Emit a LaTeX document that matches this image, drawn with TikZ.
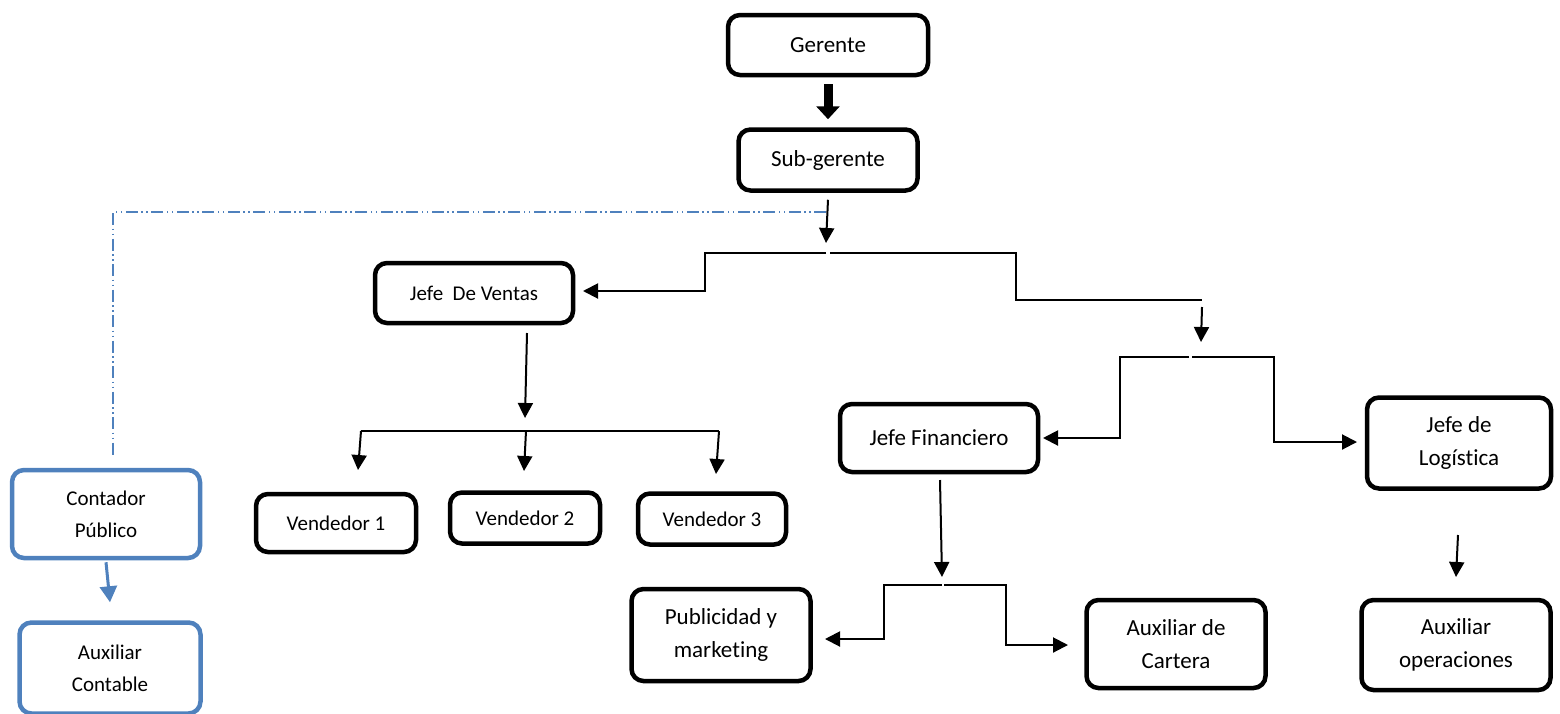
\documentclass[tikz,border=0pt]{standalone}
\usepackage{fontspec}
\setmainfont{Carlito}[Ligatures=NoCommon]
\usetikzlibrary{arrows.meta}
\definecolor{azul}{HTML}{4F81BD}

\begin{document}
\begin{tikzpicture}[x=1pt,y=-1pt,
    caja/.style={draw,line width=4.5pt,rounded corners=12pt,align=center,inner sep=0pt,
      font=\fontsize{23}{33}\selectfont},
    cajachica/.style={caja,font=\fontsize{21}{32}\selectfont},
    cajaazul/.style={cajachica,draw=azul},
    linea/.style={line width=2pt},
    flecha/.style={linea,-{Triangle[length=15pt,width=15pt]}},
    gruesa/.style={line width=9pt,-{Triangle[length=13pt,width=23pt]}},
    flechaazul/.style={azul,line width=3pt,-{Triangle[length=16pt,width=17pt]}},
    punteado/.style={azul,line width=1.5pt,dash pattern=on 12pt off 3.5pt on 1.5pt off 3.5pt on 1.5pt off 3.5pt}]
  \useasboundingbox (0,0) rectangle (1560,713);

  \node[caja,minimum width=200,minimum height=60] (ger) at (828,45) {Gerente};
  \node[caja,minimum width=179,minimum height=61] (sub) at (828,160) {Sub-gerente};
  \node[cajachica,minimum width=198,minimum height=60] (jv) at (474,293) {Jefe\ \ De Ventas};
  \node[cajachica,minimum width=160,minimum height=58] (v1) at (336,523) {Vendedor 1};
  \node[cajachica,minimum width=150,minimum height=51] (v2) at (525,518) {Vendedor 2};
  \node[cajachica,minimum width=148,minimum height=51] (v3) at (712,519) {Vendedor 3};
  \node[caja,minimum width=198,minimum height=68] (jf) at (939,438) {Jefe Financiero};
  \node[caja,minimum width=184,minimum height=91] (jl) at (1459,443) {Jefe de\\Logística};
  \node[caja,minimum width=179,minimum height=92] (pub) at (721,635) {Publicidad y\\marketing};
  \node[caja,minimum width=179,minimum height=88] (cart) at (1176,644) {Auxiliar de\\Cartera};
  \node[caja,minimum width=189,minimum height=90] (ope) at (1456,645) {Auxiliar\\operaciones};
  \node[cajaazul,minimum width=188,minimum height=88] (cont) at (106,514) {Contador\\Público};
  \node[cajaazul,minimum width=181,minimum height=91] (auxc) at (110,668) {Auxiliar\\Contable};

  \coordinate (a1) at (826,243);
  \coordinate (h1l) at (826,253);
  \coordinate (h1r) at (830,253);
  \coordinate (jvin) at (583,291);
  \coordinate (k2) at (1016,300);
  \coordinate (k2e) at (1202,300);
  \coordinate (t1s) at (1202,307);
  \coordinate (t1e) at (1201,342);
  \coordinate (h2l) at (1189,357);
  \coordinate (h2r) at (1192,357);
  \coordinate (jfin) at (1043,438);
  \coordinate (jlin) at (1357,442);
  \coordinate (jvs) at (527,333);
  \coordinate (jve) at (525,418);
  \coordinate (hvl) at (361,431);
  \coordinate (hvm) at (526,431);
  \coordinate (hvr) at (719,431);
  \coordinate (v1in) at (358,470);
  \coordinate (v2in) at (524,471);
  \coordinate (v3in) at (716,474);
  \coordinate (jfs) at (940,480);
  \coordinate (jfe) at (942,577);
  \coordinate (h3l) at (942,585);
  \coordinate (h3r) at (944,585);
  \coordinate (pubin) at (825,639);
  \coordinate (cartin) at (1068,645);
  \coordinate (jls) at (1458,535);
  \coordinate (jle) at (1456,577);
  \coordinate (d1) at (826,212);
  \coordinate (d2) at (113,212);
  \coordinate (d3) at (113,455);

  \draw[gruesa] ([yshift=-7pt]ger.south) -- ([yshift=8pt]sub.north);
  \draw[punteado] (d1) -- (d2) -- (d3);
  \draw[flecha] ([yshift=-7pt]sub.south) -- (a1);
  \draw[flecha] (h1l) -| (705,291) -- (jvin);
  \draw[linea] (h1r) -| (k2) -- (k2e);
  \draw[flecha] (t1s) -- (t1e);
  \draw[flecha] (h2l) -| (1120,438) -- (jfin);
  \draw[flecha] (h2r) -| (1274,442) -- (jlin);
  \draw[flecha] (jvs) -- (jve);
  \draw[linea] (hvl) -- (hvr);
  \draw[flecha] (hvl) -- (v1in);
  \draw[flecha] (hvm) -- (v2in);
  \draw[flecha] (hvr) -- (v3in);
  \draw[flecha] (jfs) -- (jfe);
  \draw[flecha] (h3l) -| (884,639) -- (pubin);
  \draw[flecha] (h3r) -| (1006,645) -- (cartin);
  \draw[flecha] (jls) -- (jle);
  \draw[flechaazul] ([yshift=-2pt]cont.south) -- ([yshift=18pt]auxc.north);
\end{tikzpicture}
\end{document}
